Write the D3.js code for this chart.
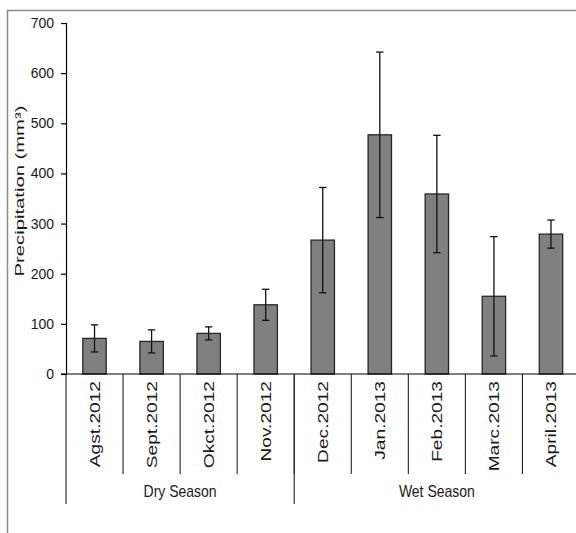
<!DOCTYPE html>
<html>
<head>
<meta charset="utf-8">
<script src="https://cdn.jsdelivr.net/npm/d3@7"></script>
<style>
  html, body { margin: 0; padding: 0; background: #fff; }
  svg { display: block; }
  text { font-family: "Liberation Sans", Arial, sans-serif; fill: #1a1a1a; }
</style>
</head>
<body>
<svg id="chart" width="576" height="533"></svg>
<script>
// Monthly precipitation with standard deviation, grouped by season
const months = ["Agst.2012", "Sept.2012", "Okct.2012", "Nov.2012", "Dec.2012",
                "Jan.2013", "Feb.2013", "Marc.2013", "April.2013"];
const precipitation = [71, 65, 81, 138, 267, 477, 359, 155, 279];
const deviation = [27, 23, 13, 31, 105, 165, 117, 119, 28];
const seasons = ["Dry Season", "Wet Season"];
const seasonSpans = [[0, 4], [4, 9]];   // [first month index, end index)
const yTicks = [0, 100, 200, 300, 400, 500, 600, 700];
const yTitle = "Precipitation (mm³)";

const svg = d3.select("#chart");

// outer frame
svg.append("rect")
  .attr("x", 7.5).attr("y", 10.5)
  .attr("width", 600).attr("height", 600)
  .attr("fill", "none").attr("stroke", "#8a8a8a").attr("stroke-width", 1.5);

const x0 = 66, x1 = 579.5, yBase = 374, yTop = 23;

const x = d3.scaleBand().domain(months).range([x0, x1]).padding(0);
const y = d3.scaleLinear().domain([0, 700]).range([yBase, yTop]);

// y axis
const yAxis = d3.axisLeft(y).tickValues(yTicks).tickSize(5).tickPadding(7).tickFormat(d3.format("d"));
const gy = svg.append("g").attr("transform", `translate(${x0},0)`).call(yAxis);
gy.select(".domain").attr("stroke", "#000").attr("stroke-width", 1.2);
gy.selectAll(".tick line").attr("stroke", "#000").attr("stroke-width", 1.2);
gy.selectAll(".tick text").style("font-size", "14px").attr("fill", "#222")
  .attr("font-family", "Liberation Sans, Arial, sans-serif");

// y axis title
svg.append("text")
  .attr("transform", `translate(24,${191}) rotate(-90) scale(1.5,1)`)
  .attr("text-anchor", "middle")
  .style("font-size", "13.5px")
  .attr("fill", "#222")
  .text(yTitle);

// bars
const barW = x.bandwidth() * 0.41;
svg.append("g").selectAll("rect")
  .data(months)
  .join("rect")
  .attr("x", (d) => x(d) + (x.bandwidth() - barW) / 2)
  .attr("y", (d, i) => y(precipitation[i]))
  .attr("width", barW)
  .attr("height", (d, i) => yBase - y(precipitation[i]))
  .attr("fill", "#808080")
  .attr("stroke", "#262626")
  .attr("stroke-width", 1.3);

// error bars
const capHalf = 3.7;
const eb = svg.append("g").attr("stroke", "#111").attr("stroke-width", 1.3);
months.forEach((m, i) => {
  const cx = x(m) + x.bandwidth() / 2;
  const hi = y(precipitation[i] + deviation[i]);
  const lo = y(precipitation[i] - deviation[i]);
  eb.append("line").attr("x1", cx).attr("x2", cx).attr("y1", hi).attr("y2", lo);
  eb.append("line").attr("x1", cx - capHalf).attr("x2", cx + capHalf).attr("y1", hi).attr("y2", hi);
  eb.append("line").attr("x1", cx - capHalf).attr("x2", cx + capHalf).attr("y1", lo).attr("y2", lo);
});

// x axis baseline
svg.append("line")
  .attr("x1", x0 - 5).attr("x2", x1)
  .attr("y1", yBase).attr("y2", yBase)
  .attr("stroke", "#000").attr("stroke-width", 1.2);

// month dividers
const divG = svg.append("g").attr("stroke", "#222").attr("stroke-width", 1.1);
months.forEach((m, i) => {
  if (i === 0) return;
  divG.append("line").attr("x1", x(m)).attr("x2", x(m))
    .attr("y1", yBase).attr("y2", 474);
});

// month labels
svg.append("g").selectAll("text")
  .data(months)
  .join("text")
  .attr("transform", (d) => `translate(${x(d) + x.bandwidth() / 2 + 5.5},381) rotate(-90) scale(1.32,1)`)
  .attr("text-anchor", "end")
  .style("font-size", "14.5px")
  .attr("fill", "#222")
  .text((d) => d);

// season dividers and labels
const edges = [0, 4, 9].map((k) => k < months.length ? x(months[k]) : x1);
edges.forEach((ex) => {
  svg.append("line").attr("x1", ex).attr("x2", ex)
    .attr("y1", yBase).attr("y2", 504)
    .attr("stroke", "#222").attr("stroke-width", 1.1);
});
seasons.forEach((s, j) => {
  const a = x(months[seasonSpans[j][0]]);
  const b = seasonSpans[j][1] < months.length ? x(months[seasonSpans[j][1]]) : x1;
  svg.append("text")
    .attr("transform", `translate(${(a + b) / 2},497) scale(1,1.2)`)
    .attr("text-anchor", "middle")
    .style("font-size", "14px")
    .attr("fill", "#333")
    .text(s);
});
</script>
</body>
</html>
